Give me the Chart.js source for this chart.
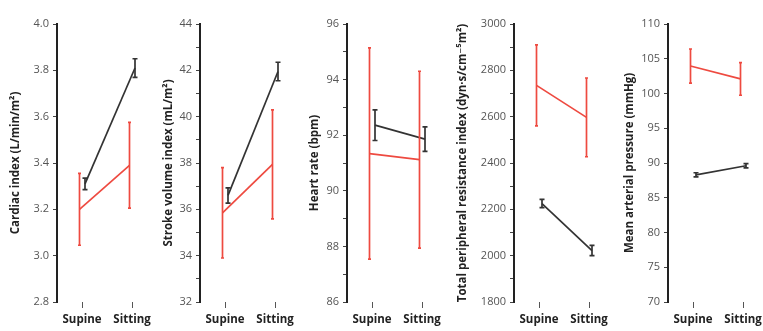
<!DOCTYPE html>
<html>
<head>
<meta charset="utf-8">
<script src="https://cdn.jsdelivr.net/npm/chart.js@4.4.1/dist/chart.umd.min.js"></script>
<style>
  body { margin: 0; background: #fff; width: 763px; height: 331px; position: relative; overflow: hidden; }
  canvas { position: absolute; top: 0; }
</style>
</head>
<body>
<canvas id="ciChart" width="154" height="331" style="left:5px"></canvas>
<canvas id="sviChart" width="144" height="331" style="left:158px"></canvas>
<canvas id="hrChart" width="145" height="331" style="left:304px"></canvas>
<canvas id="tpriChart" width="164" height="331" style="left:452px"></canvas>
<canvas id="mapChart" width="151" height="331" style="left:619px"></canvas>
<script>
var conditions = ["Supine", "Sitting"];

// cardiac index
var ciRed = [3.20, 3.39];
var ciRedErr = [0.155, 0.185];
var ciBlack = [3.31, 3.81];
var ciBlackErr = [0.025, 0.04];

// stroke volume index
var sviRed = [35.85, 37.94];
var sviRedErr = [1.95, 2.35];
var sviBlack = [36.6, 41.95];
var sviBlackErr = [0.33, 0.4];

// heart rate
var hrRed = [91.34, 91.12];
var hrRedErr = [3.8, 3.18];
var hrBlack = [92.36, 91.86];
var hrBlackErr = [0.55, 0.44];

// total peripheral resistance index
var tpriRed = [2735, 2597];
var tpriRedErr = [175, 170];
var tpriBlack = [2225, 2022];
var tpriBlackErr = [18, 22];

// mean arterial pressure
var mapRed = [103.95, 102.1];
var mapRedErr = [2.45, 2.35];
var mapBlack = [88.3, 89.6];
var mapBlackErr = [0.3, 0.3];

var RED = "rgb(238, 74, 64)";
var BLACK = "#333";
var FONT = "'Open Sans', 'DejaVu Sans', sans-serif";

// draws the vertical error bars with the chart's own y scale
var errorBars = {
  id: "errorBars",
  afterDatasetsDraw: function (chart) {
    var ctx = chart.ctx;
    var y = chart.scales.y;
    chart.data.datasets.forEach(function (ds, i) {
      var meta = chart.getDatasetMeta(i);
      ctx.save();
      ctx.strokeStyle = ds.borderColor;
      ctx.lineWidth = 1.7;
      meta.data.forEach(function (pt, j) {
        var v = ds.data[j].y;
        var top = y.getPixelForValue(v + ds.errors[j]);
        var bot = y.getPixelForValue(v - ds.errors[j]);
        ctx.beginPath();
        ctx.moveTo(pt.x, top);
        ctx.lineTo(pt.x, bot);
        ctx.moveTo(pt.x - ds.cap, top);
        ctx.lineTo(pt.x + ds.cap, top);
        ctx.moveTo(pt.x - ds.cap, bot);
        ctx.lineTo(pt.x + ds.cap, bot);
        ctx.stroke();
      });
      ctx.restore();
    });
  }
};

function points(values, shift) {
  return values.map(function (v, i) { return { x: i + shift, y: v }; });
}

function makePanel(id, title, yMin, yMax, step, labelStep, decimals, axisW, red, redErr, black, blackErr) {
  new Chart(document.getElementById(id), {
    type: "line",
    data: {
      datasets: [
        {
          data: points(red, -0.05),
          errors: redErr,
          cap: 1.5,
          borderColor: RED,
          borderWidth: 1.7,
          pointRadius: 0
        },
        {
          data: points(black, 0.06),
          errors: blackErr,
          cap: 2.5,
          borderColor: BLACK,
          borderWidth: 1.7,
          pointRadius: 0
        }
      ]
    },
    options: {
      responsive: false,
      animation: false,
      layout: { padding: { top: 24, right: 2, bottom: 0, left: 0 } },
      plugins: { legend: { display: false }, tooltip: { enabled: false } },
      scales: {
        x: {
          type: "linear",
          min: -0.5,
          max: 1.5,
          afterBuildTicks: function (scale) {
            scale.ticks = conditions.map(function (c, i) { return { value: i }; });
          },
          afterFit: function (scale) { scale.height = 29; },
          border: { display: false },
          grid: { drawOnChartArea: false, tickLength: 6, color: "#555" },
          ticks: {
            padding: 5,
            color: "#222",
            font: { family: FONT, size: 11.5, weight: "bold" },
            callback: function (v) { return conditions[v]; }
          }
        },
        y: {
          min: yMin,
          max: yMax,
          afterFit: function (scale) { scale.width = axisW; },
          border: { color: "#222", width: 2 },
          grid: { drawOnChartArea: false, tickLength: 4, color: "#444" },
          ticks: {
            stepSize: step,
            padding: 4,
            color: "#555",
            font: { family: FONT, size: 11 },
            callback: function (v) {
              var k = Math.round(v / labelStep);
              if (Math.abs(k * labelStep - v) > 1e-6) return "";
              return v.toFixed(decimals);
            }
          },
          title: {
            display: true,
            text: title,
            color: "#222",
            font: { family: FONT, size: 11.5, weight: "bold" }
          }
        }
      }
    },
    plugins: [errorBars]
  });
}

makePanel("ciChart", "Cardiac index (L/min/m\u00b2)", 2.8, 4.0, 0.2, 0.2, 1, 52, ciRed, ciRedErr, ciBlack, ciBlackErr);
makePanel("sviChart", "Stroke volume index (mL/m\u00b2)", 32, 44, 1, 2, 0, 42, sviRed, sviRedErr, sviBlack, sviBlackErr);
makePanel("hrChart", "Heart rate (bpm)", 86, 96, 1, 2, 0, 43, hrRed, hrRedErr, hrBlack, hrBlackErr);
makePanel("tpriChart", "Total peripheral resistance index (dyn\u00b7s/cm\u207b\u2075m\u00b2)", 1800, 3000, 100, 200, 0, 62, tpriRed, tpriRedErr, tpriBlack, tpriBlackErr);
makePanel("mapChart", "Mean arterial pressure (mmHg)", 70, 110, 5, 5, 0, 49, mapRed, mapRedErr, mapBlack, mapBlackErr);
</script>
</body>
</html>
